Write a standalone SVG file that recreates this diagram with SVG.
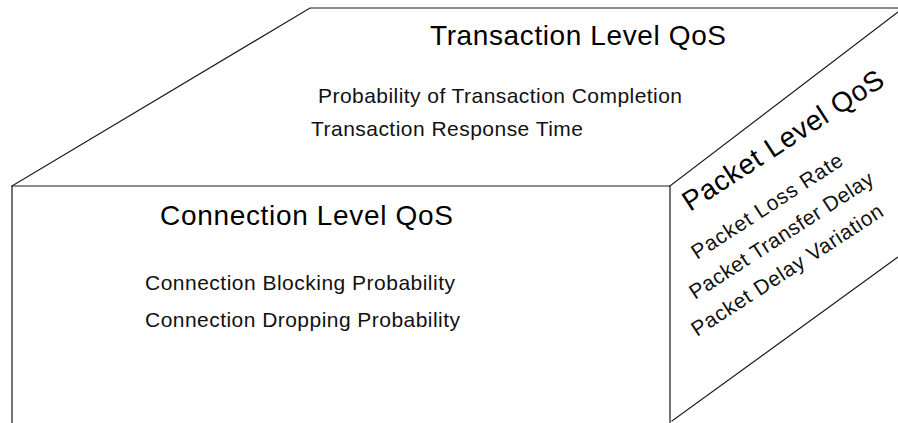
<svg xmlns="http://www.w3.org/2000/svg" width="898" height="423" viewBox="0 0 898 423">
  <style>
    .edge { fill: none; stroke: #1a1a1a; stroke-width: 1.2; stroke-linecap: square; }
    .title { font-family: "Liberation Sans", Arial, Helvetica, sans-serif; font-size: 28px; fill: #000; }
    .item { font-family: "Liberation Sans", Arial, Helvetica, sans-serif; font-size: 21px; fill: #111; }
  </style>
  <rect x="0" y="0" width="898" height="423" fill="#fff"/>

  <!-- box outline: top face, front face, side face -->
  <g id="edges">
    <polyline class="edge" points="12,186 310,8 898,8"/>
    <polyline class="edge" points="12,423 12,186 670,186 670,423"/>
    <line class="edge" x1="670" y1="186" x2="898" y2="12"/>
    <line class="edge" x1="672" y1="421" x2="898" y2="257"/>
  </g>

  <g id="transaction">
    <text class="title" x="430" y="45" textLength="296" lengthAdjust="spacing">Transaction Level QoS</text>
    <text class="item" x="318" y="103" textLength="364" lengthAdjust="spacing">Probability of Transaction Completion</text>
    <text class="item" x="311" y="136" textLength="272" lengthAdjust="spacing">Transaction Response Time</text>
  </g>

  <g id="connection">
    <text class="title" x="160" y="225" textLength="293" lengthAdjust="spacing">Connection Level QoS</text>
    <text class="item" x="145" y="290" textLength="310" lengthAdjust="spacing">Connection Blocking Probability</text>
    <text class="item" x="145" y="327" textLength="315" lengthAdjust="spacing">Connection Dropping Probability</text>
  </g>

  <g id="packet">
    <text class="title" transform="translate(690,212) rotate(-33)" textLength="234" lengthAdjust="spacing">Packet Level QoS</text>
    <text class="item" transform="translate(697,260) rotate(-33)" textLength="176" lengthAdjust="spacing">Packet Loss Rate</text>
    <text class="item" transform="translate(695,300) rotate(-33)" textLength="215" lengthAdjust="spacing">Packet Transfer Delay</text>
    <text class="item" transform="translate(697,337) rotate(-33)" textLength="224" lengthAdjust="spacing">Packet Delay Variation</text>
  </g>
</svg>
